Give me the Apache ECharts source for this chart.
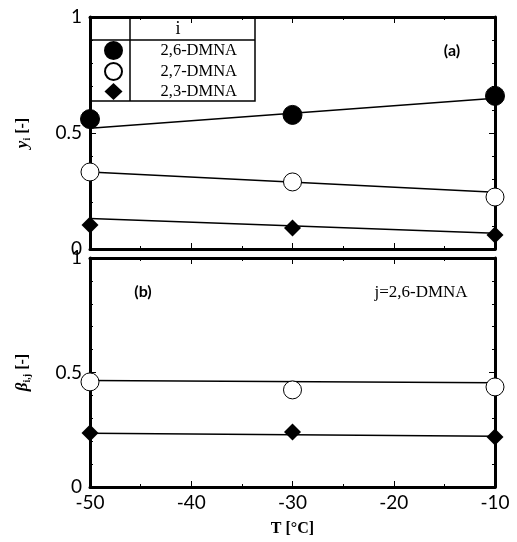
<!DOCTYPE html>
<html><head><meta charset="utf-8">
<script src="https://cdn.jsdelivr.net/npm/echarts@6/dist/echarts.min.js"></script>
<style>html,body{margin:0;padding:0;background:#fff}#c{width:517px;height:542px}</style>
</head><body><div id="c"></div>
<script>
// Data
const temps = [-50, -30, -10];
const names = ['2,6-DMNA', '2,7-DMNA', '2,3-DMNA'];
// panel (a): y_i
const y26 = [0.56, 0.578, 0.66];
const y27 = [0.332, 0.289, 0.224];
const y23 = [0.103, 0.09, 0.06];
// fitted lines (a) at T = -50 and -10
const fitT = [-50, -10];
const fitY26 = [0.52, 0.65];
const fitY27 = [0.332, 0.245];
const fitY23 = [0.132, 0.068];
// panel (b): beta_i,j
const b27 = [0.459, 0.424, 0.437];
const b23 = [0.236, 0.24, 0.218];
const fitB27 = [0.465, 0.455];
const fitB23 = [0.235, 0.222];
const xTicks = [-50, -40, -30, -20, -10];
const yTicks = [0, 0.5, 1];

const pts = (xs, ys) => xs.map((x, i) => [x, ys[i]]);
const labelFont = 'Lato';
const serif = 'Liberation Serif';

const styles = {
  '2,6-DMNA': {symbol: 'circle', symbolSize: 19, itemStyle: {color: '#000', borderColor: '#000', borderWidth: 1, opacity: 1}},
  '2,7-DMNA': {symbol: 'circle', symbolSize: 18, itemStyle: {color: '#fff', borderColor: '#000', borderWidth: 1, opacity: 1}},
  '2,3-DMNA': {symbol: 'diamond', symbolSize: 17, itemStyle: {color: '#000', borderColor: '#000', borderWidth: 0, opacity: 1}}
};
function scat(name, idx, data) {
  return Object.assign({type: 'scatter', name, xAxisIndex: idx, yAxisIndex: idx, data: pts(temps, data), clip: false, z: 5}, styles[name]);
}
function fit(idx, data) {
  return {type: 'line', xAxisIndex: idx, yAxisIndex: idx, data: pts(fitT, data), showSymbol: false, symbol: 'none',
    lineStyle: {color: '#000', width: 1.5}, z: 3, silent: true};
}
function xAx(grid, pos, labels) {
  return {type: 'value', gridIndex: grid, position: pos, min: -50, max: -10, interval: 10,
    axisLine: {show: true, onZero: false, lineStyle: {color: '#000', width: 3}},
    axisTick: {show: true, inside: true, length: 6, lineStyle: {color: '#000', width: 1}},
    minorTick: {show: true, splitNumber: 2, length: 3, lineStyle: {color: '#000'}},
    splitLine: {show: false},
    axisLabel: {show: labels, color: '#000', fontFamily: labelFont, fontSize: 19, margin: 6},
    name: labels ? 'T [°C]' : '', nameLocation: 'middle', nameGap: 34,
    nameTextStyle: {fontFamily: serif, fontWeight: 'bold', fontSize: 16, color: '#000'}
  };
}
function yAx(grid, pos, labels, name, shiftUp) {
  return {type: 'value', gridIndex: grid, position: pos, min: 0, max: 1, interval: 0.5,
    axisLine: {show: true, onZero: false, lineStyle: {color: '#000', width: 3}},
    axisTick: {show: true, inside: true, length: 6, lineStyle: {color: '#000', width: 1}},
    minorTick: {show: true, splitNumber: 5, length: 3, lineStyle: {color: '#000'}},
    splitLine: {show: false},
    axisLabel: {show: labels, color: '#000', fontFamily: labelFont, fontSize: 19, margin: 8,
      padding: shiftUp ? [0, 0, 8, 0] : 0,
      formatter: v => String(v)},
    name: name || '', nameLocation: 'middle', nameRotate: 90, nameGap: 58,
    nameTextStyle: {color: '#000', fontFamily: serif, fontSize: 16, fontWeight: 'bold',
      rich: {m: {fontFamily: serif, fontSize: 17, fontWeight: 'bold', fontStyle: 'italic'},
             s: {fontFamily: serif, fontSize: 10, fontWeight: 'bold', verticalAlign: 'bottom', padding: [8, 0, 0, 0]},
             b: {fontFamily: serif, fontSize: 16, fontWeight: 'bold'}}}
  };
}

const chart = echarts.init(document.getElementById('c'), null, {renderer: 'canvas'});
chart.setOption({
  animation: false,
  backgroundColor: '#fff',
  grid: [
    {left: 90, right: 22, top: 17, height: 232},
    {left: 90, right: 22, top: 258, height: 229}
  ],
  xAxis: [xAx(0, 'bottom', false), xAx(1, 'bottom', true), xAx(0, 'top', false), xAx(1, 'top', false)],
  yAxis: [
    yAx(0, 'left', true, '{m|y}{s|i} {b|[-]}', true),
    yAx(1, 'left', true, '{m|β}{s|i,j} {b|[-]}', false),
    yAx(0, 'right', false), yAx(1, 'right', false)
  ],
  legend: {
    orient: 'vertical', left: 104, top: 41, itemGap: 2, itemWidth: 18, itemHeight: 17, padding: 0,
    data: names, selectedMode: false,
    textStyle: {fontFamily: serif, fontSize: 16.5, lineHeight: 17, color: '#000', padding: [0, 0, 0, 33]}
  },
  graphic: [
    {type: 'rect', shape: {x: 90, y: 17, width: 165, height: 84}, style: {fill: 'none', stroke: '#000', lineWidth: 1.5}, z: 10},
    {type: 'line', shape: {x1: 130, y1: 17, x2: 130, y2: 101}, style: {stroke: '#000', lineWidth: 1.5}, z: 10},
    {type: 'line', shape: {x1: 90, y1: 40, x2: 255, y2: 40}, style: {stroke: '#000', lineWidth: 1.5}, z: 10},
    {type: 'text', x: 178, y: 29, style: {text: 'i', font: '18px "Liberation Serif"', fill: '#000', align: 'center', verticalAlign: 'middle'}, z: 10},
    {type: 'text', x: 452, y: 51, style: {text: '(a)', font: 'bold 16px Lato', fill: '#000', align: 'center', verticalAlign: 'middle'}, z: 10},
    {type: 'text', x: 143, y: 292, style: {text: '(b)', font: 'bold 16px Lato', fill: '#000', align: 'center', verticalAlign: 'middle'}, z: 10},
    {type: 'text', x: 421, y: 293, style: {text: 'j=2,6-DMNA', font: '17px "Liberation Serif"', fill: '#000', align: 'center', verticalAlign: 'middle'}, z: 10}
  ],
  series: [
    fit(0, fitY26), fit(0, fitY27), fit(0, fitY23),
    scat('2,6-DMNA', 0, y26), scat('2,7-DMNA', 0, y27), scat('2,3-DMNA', 0, y23),
    fit(1, fitB27), fit(1, fitB23),
    scat('2,7-DMNA', 1, b27), scat('2,3-DMNA', 1, b23)
  ]
});
</script></body></html>
